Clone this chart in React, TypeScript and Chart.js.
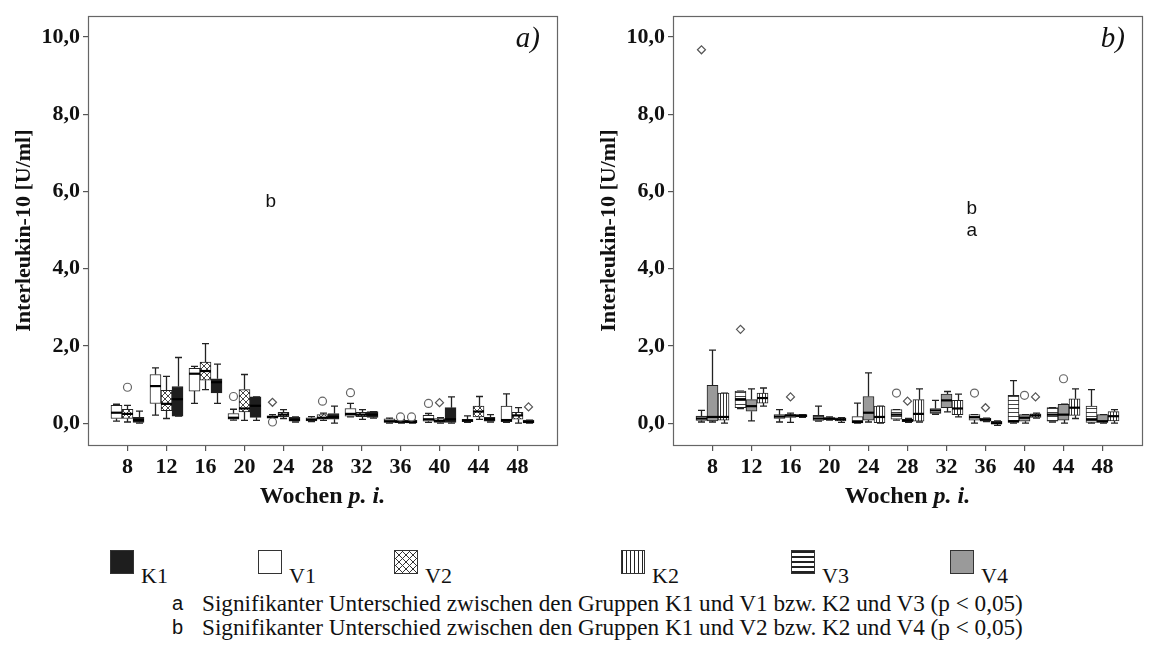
import React, { useEffect, useRef } from 'react';
import { Chart, registerables } from 'chart.js';

Chart.register(...registerables);

// ---------- data ----------
const weeks = [8, 12, 16, 20, 24, 28, 32, 36, 40, 44, 48];
const yTickValues = [0, 2, 4, 6, 8, 10];

// [min, Q1, median, Q3, max] per week — panel a)
const statsV1 = [
  [0.05, 0.12, 0.27, 0.46, 0.49], [0.21, 0.51, 0.96, 1.26, 1.43], [0.51, 0.83, 1.28, 1.42, 1.47],
  [0.08, 0.10, 0.14, 0.25, 0.36], [0.10, 0.13, 0.16, 0.19, 0.22], [0.04, 0.06, 0.09, 0.14, 0.17],
  [0.16, 0.18, 0.24, 0.38, 0.51], [0.0, 0.02, 0.05, 0.11, 0.13], [0.02, 0.05, 0.10, 0.20, 0.25],
  [0.02, 0.04, 0.07, 0.10, 0.19], [0.02, 0.04, 0.08, 0.44, 0.76],
];
const statsV2 = [
  [0.03, 0.12, 0.24, 0.36, 0.46], [0.12, 0.32, 0.50, 0.85, 1.21], [0.87, 1.11, 1.35, 1.58, 2.06],
  [0.07, 0.29, 0.38, 0.87, 1.26], [0.12, 0.17, 0.22, 0.28, 0.35], [0.07, 0.10, 0.14, 0.22, 0.26],
  [0.10, 0.17, 0.22, 0.28, 0.35], [0.0, 0.01, 0.04, 0.08, 0.10], [0.0, 0.02, 0.06, 0.12, 0.14],
  [0.10, 0.16, 0.30, 0.44, 0.69], [0.0, 0.10, 0.20, 0.28, 0.40],
];
const statsK1 = [
  [0.0, 0.02, 0.08, 0.15, 0.31], [0.18, 0.18, 0.62, 0.95, 1.70], [0.51, 0.78, 1.06, 1.15, 1.53],
  [0.07, 0.15, 0.45, 0.68, 0.68], [0.03, 0.05, 0.09, 0.15, 0.16], [0.0, 0.10, 0.16, 0.25, 0.44],
  [0.13, 0.15, 0.22, 0.30, 0.30], [0.0, 0.01, 0.03, 0.07, 0.08], [0.0, 0.02, 0.10, 0.40, 0.68],
  [0.03, 0.05, 0.10, 0.15, 0.22], [0.0, 0.01, 0.03, 0.08, 0.08],
];
// panel b)
const statsV3 = [
  [0.03, 0.07, 0.12, 0.18, 0.33], [0.38, 0.40, 0.62, 0.83, 0.83], [0.03, 0.12, 0.17, 0.22, 0.35],
  [0.05, 0.07, 0.12, 0.20, 0.44], [0.0, 0.01, 0.03, 0.17, 0.52], [0.08, 0.10, 0.22, 0.35, 0.35],
  [0.23, 0.25, 0.33, 0.38, 0.59], [0.0, 0.08, 0.15, 0.22, 0.22], [0.0, 0.02, 0.05, 0.72, 1.10],
  [0.03, 0.05, 0.22, 0.40, 0.40], [0.0, 0.02, 0.10, 0.44, 0.87],
];
const statsV4 = [
  [0.03, 0.06, 0.16, 0.98, 1.89], [0.06, 0.31, 0.44, 0.61, 0.89], [0.02, 0.15, 0.20, 0.22, 0.26],
  [0.08, 0.09, 0.12, 0.14, 0.16], [0.03, 0.08, 0.27, 0.69, 1.30], [0.02, 0.04, 0.07, 0.10, 0.12],
  [0.29, 0.40, 0.59, 0.75, 0.82], [0.04, 0.05, 0.09, 0.13, 0.13], [0.0, 0.05, 0.14, 0.22, 0.22],
  [0.0, 0.08, 0.22, 0.49, 0.49], [0.0, 0.02, 0.05, 0.22, 0.22],
];
const statsK2 = [
  [0.0, 0.08, 0.16, 0.78, 0.78], [0.44, 0.52, 0.65, 0.78, 0.91], [0.15, 0.16, 0.19, 0.22, 0.22],
  [0.02, 0.06, 0.10, 0.14, 0.14], [0.0, 0.01, 0.16, 0.44, 0.44], [0.03, 0.05, 0.24, 0.61, 0.89],
  [0.16, 0.22, 0.38, 0.59, 0.75], [-0.06, -0.02, 0.0, 0.05, 0.06], [0.13, 0.15, 0.20, 0.24, 0.26],
  [0.12, 0.20, 0.40, 0.63, 0.89], [0.0, 0.06, 0.18, 0.30, 0.35],
];

// outliers: [week, group, value, marker]
const outliersA: [number, string, number, string][] = [
  [8, 'V2', 0.93, 'circle'], [20, 'V1', 0.69, 'circle'], [24, 'V1', 0.54, 'diamond'],
  [24, 'V1', 0.03, 'circle'], [28, 'V2', 0.57, 'circle'], [32, 'V1', 0.79, 'circle'],
  [36, 'V2', 0.16, 'circle'], [36, 'K1', 0.16, 'circle'], [40, 'V1', 0.51, 'circle'],
  [40, 'V2', 0.53, 'diamond'], [48, 'K1', 0.42, 'diamond'],
];
const outliersB: [number, string, number, string][] = [
  [8, 'V3', 9.67, 'diamond'], [12, 'V3', 2.43, 'diamond'], [16, 'V4', 0.68, 'diamond'],
  [28, 'V3', 0.78, 'circle'], [28, 'V4', 0.57, 'diamond'], [36, 'V3', 0.78, 'circle'],
  [36, 'V4', 0.40, 'diamond'], [40, 'V4', 0.72, 'circle'], [40, 'K2', 0.68, 'diamond'],
  [44, 'V4', 1.15, 'circle'],
];

// significance letters: [week position, value, letter]
const lettersA: [number, number, string][] = [[22.7, 5.73, 'b']];
const lettersB: [number, number, string][] = [[34.6, 5.55, 'b'], [34.6, 4.99, 'a']];

const yTitle = 'Interleukin-10 [U/ml]';
const xTitleParts = ['Wochen ', 'p. i.'];
const legendLabels = ['K1', 'V1', 'V2', 'K2', 'V3', 'V4'];
const legendFills = ['black', 'white', 'cross', 'vert', 'horiz', 'grey'];
const footLetters = ['a', 'b'];
const footTexts = [
  'Signifikanter Unterschied zwischen den Gruppen K1 und V1 bzw. K2 und V3 (p < 0,05)',
  'Signifikanter Unterschied zwischen den Gruppen K1 und V2 bzw. K2 und V4 (p < 0,05)',
];

// ---------- styling helpers ----------
const SERIF = '"Liberation Serif", "Times New Roman", serif';
const SANS = '"Liberation Sans", Arial, sans-serif';
const GROUP_STEP = 1.13; // week units between neighbouring boxes
const BOX_W = 11;

function makeFill(kind: string): any {
  if (kind === 'black') return '#1e1e1e';
  if (kind === 'white') return '#ffffff';
  if (kind === 'grey') return '#9a9a9a';
  const c = document.createElement('canvas');
  const ctx = c.getContext('2d')!;
  if (kind === 'cross') {
    c.width = 6; c.height = 6;
    ctx.fillStyle = '#fff'; ctx.fillRect(0, 0, 6, 6);
    ctx.strokeStyle = '#333'; ctx.lineWidth = 0.9;
    ctx.beginPath();
    ctx.moveTo(0, 0); ctx.lineTo(6, 6);
    ctx.moveTo(6, 0); ctx.lineTo(0, 6);
    ctx.stroke();
  } else if (kind === 'vert') {
    c.width = 3; c.height = 3;
    ctx.fillStyle = '#fff'; ctx.fillRect(0, 0, 3, 3);
    ctx.fillStyle = '#333'; ctx.fillRect(0, 0, 1, 3);
  } else {
    c.width = 4; c.height = 4;
    ctx.fillStyle = '#fff'; ctx.fillRect(0, 0, 4, 4);
    ctx.fillStyle = '#444'; ctx.fillRect(0, 0, 4, 1);
  }
  return ctx.createPattern(c, 'repeat');
}

const cssFill: Record<string, string> = {
  black: '#1e1e1e',
  white: '#ffffff',
  grey: '#9a9a9a',
  cross: 'repeating-linear-gradient(45deg, #333 0 1px, transparent 1px 5px), repeating-linear-gradient(-45deg, #333 0 1px, #fff 1px 5px)',
  vert: 'repeating-linear-gradient(90deg, #222 0 1px, #fff 1px 4px)',
  horiz: 'repeating-linear-gradient(0deg, #222 0 2px, #fff 2px 5px)',
};

type Group = { name: string; stats: number[][]; fill: string };
type PanelDef = {
  tag: string;
  groups: Group[];
  outliers: [number, string, number, string][];
  letters: [number, number, string][];
};

const panelA: PanelDef = {
  tag: 'a)',
  groups: [
    { name: 'V1', stats: statsV1, fill: 'white' },
    { name: 'V2', stats: statsV2, fill: 'cross' },
    { name: 'K1', stats: statsK1, fill: 'black' },
  ],
  outliers: outliersA,
  letters: lettersA,
};
const panelB: PanelDef = {
  tag: 'b)',
  groups: [
    { name: 'V3', stats: statsV3, fill: 'horiz' },
    { name: 'V4', stats: statsV4, fill: 'grey' },
    { name: 'K2', stats: statsK2, fill: 'vert' },
  ],
  outliers: outliersB,
  letters: lettersB,
};

const boxPlugin = {
  id: 'boxWhisker',
  beforeDatasetsDraw(chart: any) {
    const { ctx, scales } = chart;
    const x = scales.x, y = scales.y;
    ctx.save();
    ctx.strokeStyle = '#222';
    ctx.lineWidth = 1.3;
    chart.data.datasets.forEach((ds: any) => {
      if (!ds.stats) return;
      ds.data.forEach((pt: any, i: number) => {
        const s = ds.stats[i];
        const px = Math.round(x.getPixelForValue(pt.x)) + 0.5;
        const yMin = y.getPixelForValue(s[0]);
        const yQ1 = y.getPixelForValue(s[1]);
        const yQ3 = y.getPixelForValue(s[3]);
        const yMax = y.getPixelForValue(s[4]);
        ctx.beginPath();
        ctx.moveTo(px, yQ3); ctx.lineTo(px, yMax);
        ctx.moveTo(px, yQ1); ctx.lineTo(px, yMin);
        ctx.moveTo(px - 3.5, yMax); ctx.lineTo(px + 3.5, yMax);
        ctx.moveTo(px - 3.5, yMin); ctx.lineTo(px + 3.5, yMin);
        ctx.stroke();
      });
    });
    ctx.restore();
  },
  afterDatasetDraw(chart: any, args: any) {
    const ds: any = chart.data.datasets[args.index];
    if (!ds.stats) return;
    const { ctx, scales } = chart;
    ctx.save();
    ctx.strokeStyle = '#000';
    ctx.lineWidth = 2.2;
    ds.data.forEach((pt: any, i: number) => {
      const px = scales.x.getPixelForValue(pt.x);
      const py = scales.y.getPixelForValue(ds.stats[i][2]);
      ctx.beginPath();
      ctx.moveTo(px - BOX_W / 2, py);
      ctx.lineTo(px + BOX_W / 2, py);
      ctx.stroke();
    });
    ctx.restore();
  },
};

const framePlugin = {
  id: 'frameAndText',
  afterDraw(chart: any) {
    const { ctx, chartArea, scales } = chart;
    const opts = chart.options.plugins.frameAndText;
    ctx.save();
    ctx.strokeStyle = '#666';
    ctx.lineWidth = 1.2;
    ctx.strokeRect(Math.round(chartArea.left) + 0.5, Math.round(chartArea.top) + 0.5,
      Math.round(chartArea.right - chartArea.left), Math.round(chartArea.bottom - chartArea.top));
    // panel tag
    ctx.fillStyle = '#111';
    ctx.font = `italic 29px ${SERIF}`;
    ctx.textAlign = 'right';
    ctx.textBaseline = 'middle';
    ctx.fillText(opts.tag, chartArea.right - 17, 39);
    // significance letters
    ctx.font = `19px ${SANS}`;
    ctx.textAlign = 'center';
    opts.letters.forEach((l: [number, number, string]) => {
      ctx.fillText(l[2], scales.x.getPixelForValue(l[0]), scales.y.getPixelForValue(l[1]));
    });
    // x title (mixed regular/italic)
    const f1 = `bold 24px ${SERIF}`;
    const f2 = `italic bold 24px ${SERIF}`;
    ctx.textAlign = 'left';
    ctx.font = f1; const w1 = ctx.measureText(xTitleParts[0]).width;
    ctx.font = f2; const w2 = ctx.measureText(xTitleParts[1]).width;
    const sx = (chartArea.left + chartArea.right) / 2 - (w1 + w2) / 2;
    ctx.font = f1; ctx.fillText(xTitleParts[0], sx, 497);
    ctx.font = f2; ctx.fillText(xTitleParts[1], sx + w1, 497);
    ctx.restore();
  },
};

function buildConfig(panel: PanelDef): any {
  const offsetOf = (name: string) => {
    const gi = panel.groups.findIndex((g) => g.name === name);
    return (gi - 1) * GROUP_STEP;
  };
  const circles = panel.outliers.filter((o) => o[3] === 'circle').map((o) => ({ x: o[0] + offsetOf(o[1]), y: o[2] }));
  const diamonds = panel.outliers.filter((o) => o[3] === 'diamond').map((o) => ({ x: o[0] + offsetOf(o[1]), y: o[2] }));
  const datasets: any[] = [
    {
      type: 'scatter', label: 'circles', data: circles, pointStyle: 'circle', pointRadius: 4,
      borderColor: '#666', backgroundColor: '#fff', borderWidth: 1.2,
    },
    {
      type: 'scatter', label: 'diamonds', data: diamonds, pointStyle: 'rectRot', pointRadius: 4,
      borderColor: '#555', backgroundColor: '#fff', borderWidth: 1.2,
    },
    ...panel.groups.map((g) => ({
      type: 'bar',
      label: g.name,
      stats: g.stats,
      data: weeks.map((w, i) => ({ x: w + offsetOf(g.name), y: [g.stats[i][1], g.stats[i][3]] })),
      backgroundColor: makeFill(g.fill),
      borderColor: '#222',
      borderWidth: 1,
      borderSkipped: false,
      barThickness: BOX_W,
      grouped: false,
    })),
  ];
  const tickFont = { family: SERIF, size: 22, weight: 'bold' };
  return {
    type: 'bar',
    data: { datasets },
    plugins: [boxPlugin, framePlugin],
    options: {
      animation: false,
      responsive: false,
      devicePixelRatio: 1,
      layout: { padding: { left: 0, right: 23, top: 13, bottom: 0 } },
      plugins: {
        legend: { display: false },
        tooltip: { enabled: false },
        frameAndText: { tag: panel.tag, letters: panel.letters },
      },
      scales: {
        x: {
          type: 'linear',
          bounds: 'data',
          offset: false,
          min: 3.95,
          max: 52.05,
          afterBuildTicks: (s: any) => { s.ticks = weeks.map((v) => ({ value: v })); },
          afterFit: (s: any) => { s.height = 75; },
          ticks: { font: tickFont, color: '#111', padding: 3, autoSkip: false, maxRotation: 0 },
          grid: { offset: false, drawOnChartArea: false, drawTicks: true, tickLength: 6, color: '#555', lineWidth: 1.2 },
          border: { display: false },
        },
        y: {
          type: 'linear',
          bounds: 'data',
          min: -0.566,
          max: 10.54,
          afterBuildTicks: (s: any) => { s.ticks = yTickValues.map((v) => ({ value: v })); },
          afterFit: (s: any) => { s.width = 88; },
          ticks: {
            font: tickFont, color: '#111', padding: 3,
            callback: (v: any) => Number(v).toFixed(1).replace('.', ','),
          },
          grid: { drawOnChartArea: false, drawTicks: true, tickLength: 5, color: '#555', lineWidth: 1.2 },
          border: { display: false },
          title: {
            display: true, text: yTitle, color: '#111',
            font: { family: SERIF, size: 22, weight: 'bold' },
            padding: { top: 11, bottom: 0 },
          },
        },
      },
    },
  };
}

function Panel({ panel, left }: { panel: PanelDef; left: number }) {
  const ref = useRef<HTMLCanvasElement>(null);
  useEffect(() => {
    const chart = new Chart(ref.current as HTMLCanvasElement, buildConfig(panel));
    return () => chart.destroy();
  }, [panel]);
  return (
    <canvas
      ref={ref}
      width={580}
      height={520}
      style={{ position: 'absolute', left, top: 0, width: 580, height: 520 }}
    />
  );
}

const legendX = [110, 258, 394, 621, 791, 950];

export default function App() {
  return (
    <div style={{ position: 'absolute', left: 0, top: 0, width: 1153, height: 646, background: '#fff', overflow: 'hidden' }}>
      <Panel panel={panelA} left={0} />
      <Panel panel={panelB} left={585} />
      {legendLabels.map((lab, i) => (
        <React.Fragment key={lab}>
          <div
            style={{
              position: 'absolute', left: legendX[i], top: 550, width: 24, height: 24,
              boxSizing: 'border-box', border: '1px solid #333', background: cssFill[legendFills[i]],
            }}
          />
          <div
            style={{
              position: 'absolute', left: legendX[i] + 31, top: 564, fontFamily: SERIF, fontSize: 22,
              lineHeight: '24px', color: '#111', whiteSpace: 'nowrap',
            }}
          >
            {lab}
          </div>
        </React.Fragment>
      ))}
      {footTexts.map((t, i) => (
        <React.Fragment key={i}>
          <div style={{ position: 'absolute', left: 172, top: 591 + i * 24, fontFamily: SANS, fontSize: 20, lineHeight: '24px', color: '#111' }}>
            {footLetters[i]}
          </div>
          <div style={{ position: 'absolute', left: 202, top: 591 + i * 24, fontFamily: SERIF, fontSize: 23.2, lineHeight: '24px', color: '#111', whiteSpace: 'nowrap' }}>
            {t}
          </div>
        </React.Fragment>
      ))}
    </div>
  );
}
